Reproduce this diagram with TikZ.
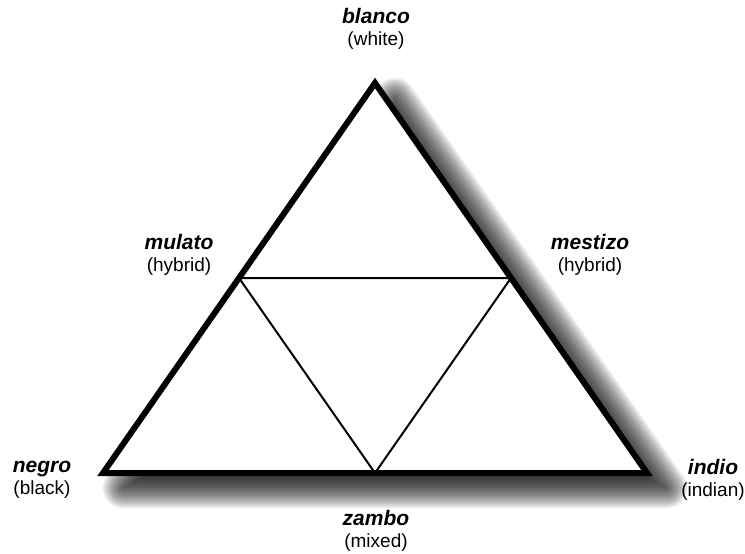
\documentclass[tikz,border=0pt]{standalone}
\usepackage{fontspec}
\setmainfont{Liberation Sans}
\usetikzlibrary{calc}
\begin{document}
\begin{tikzpicture}[x=1pt,y=-1pt,
  lbl/.style={align=center,inner sep=0pt,font=\fontsize{19}{22}\selectfont},
  outer/.style={line width=6pt,line join=miter,draw=black,fill=white},
  inner/.style={line width=2pt,draw=black},
  shadowlayer/.style={fill=black,fill opacity=0.085}]
\newcommand{\nm}[1]{{\fontsize{21}{22}\selectfont\bfseries\itshape #1}}
\useasboundingbox (0,0) rectangle (745,554);
\coordinate (T) at (375,83);
\coordinate (L) at (103,473);
\coordinate (R) at (647,473);
\coordinate (ML) at ($(T)!0.5!(L)$);
\coordinate (MR) at ($(T)!0.5!(R)$);
\coordinate (MB) at ($(L)!0.5!(R)$);
% soft drop shadow of the triangle, offset down-right
\coordinate (C) at (395,346.1);
\coordinate (sT) at ([shift={(20,15)}]T);
\coordinate (sR) at ([shift={(20,15)}]R);
\coordinate (sL) at ([shift={(20,15)}]L);
\foreach \k in {1,...,10}{
  \pgfmathsetmacro{\s}{(141.9-2*\k)/141.9}
  \path[shadowlayer] ($(C)!\s!(sT)$) -- ($(C)!\s!(sR)$) -- ($(C)!\s!(sL)$) -- cycle;
}
\path[shadowlayer] (sT) -- (sR) -- (sL) -- cycle;
\foreach \k in {1,...,10}{
  \begin{scope}[transparency group,opacity=0.085]
    \filldraw[black,line width=4*\k pt,line join=round] (sT) -- (sR) -- (sL) -- cycle;
  \end{scope}
}
\path[outer] (T) -- (R) -- (L) -- cycle;
\draw[inner] (ML) -- (MR) -- (MB) -- cycle;
\node[lbl] (blanco) at (376,29) {\nm{blanco}\\(white)};
\node[lbl] (mulato) at (179,255) {\nm{mulato}\\(hybrid)};
\node[lbl] (mestizo) at (590,255) {\nm{mestizo}\\(hybrid)};
\node[lbl] (negro) at (42,480) {\nm{negro}\\(black)};
\node[lbl] (indio) at (713,480) {\nm{indio}\\(indian)};
\node[lbl] (zambo) at (376,531) {\nm{zambo}\\(mixed)};
\end{tikzpicture}
\end{document}
